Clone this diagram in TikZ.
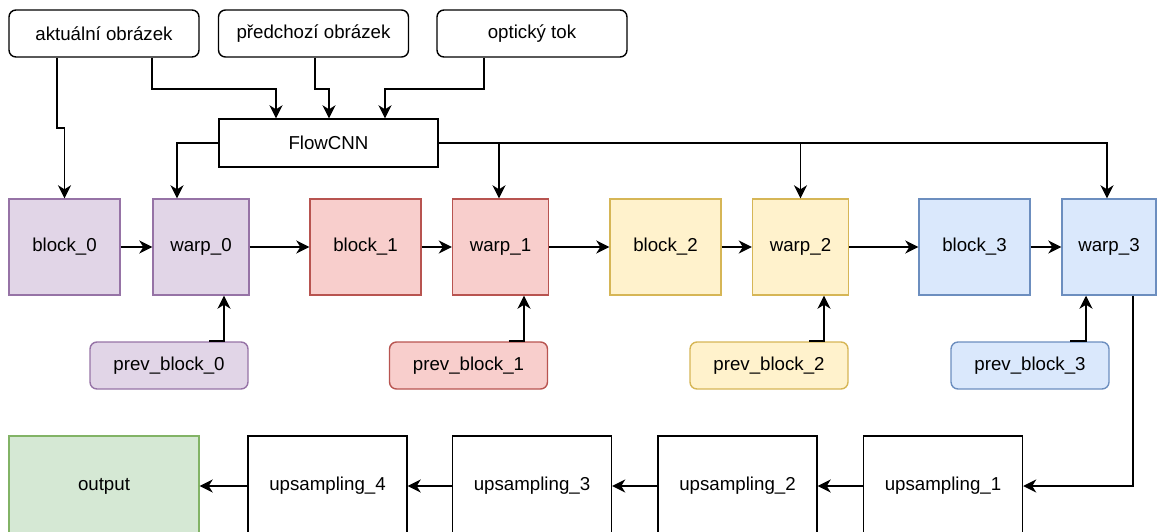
\documentclass[tikz,border=0pt]{standalone}
\usepackage{fontspec}
\setmainfont{Liberation Sans}
\usetikzlibrary{arrows.meta}

\definecolor{purpleF}{HTML}{E1D5E7}\definecolor{purpleD}{HTML}{9673A6}
\definecolor{redF}{HTML}{F8CECC}\definecolor{redD}{HTML}{B85450}
\definecolor{yellowF}{HTML}{FFF2CC}\definecolor{yellowD}{HTML}{D6B656}
\definecolor{blueF}{HTML}{DAE8FC}\definecolor{blueD}{HTML}{6C8EBF}
\definecolor{greenF}{HTML}{D5E8D4}\definecolor{greenD}{HTML}{82B366}

\begin{document}
\begin{tikzpicture}[x=1pt,y=-1pt,
  every node/.style={font=\fontsize{18.7}{22}\selectfont, inner sep=0pt, anchor=center},
  plain/.style={draw=black, line width=1.4pt, fill=white},
  inbox/.style={plain, rounded corners=7pt, minimum width=190pt, minimum height=47pt},
  flowbox/.style={plain, minimum width=219pt, minimum height=48pt},
  blockbox/.style={line width=1.4pt, minimum width=111pt, minimum height=96pt},
  warpbox/.style={line width=1.4pt, minimum width=96pt, minimum height=96pt},
  prevbox/.style={line width=1.4pt, rounded corners=7pt, minimum width=158pt, minimum height=47pt},
  upbox/.style={plain, minimum width=159pt, minimum height=100pt},
  cpurple/.style={draw=purpleD, fill=purpleF},
  cred/.style={draw=redD, fill=redF},
  cyellow/.style={draw=yellowD, fill=yellowF},
  cblue/.style={draw=blueD, fill=blueF},
  link/.style={draw=black, line width=1.9pt, -{Stealth[length=13pt, width=13pt, inset=4pt]}},
]
\useasboundingbox (0,0) rectangle (1158,531);

% inputs
\node[inbox] (akt) at (104,33.5) {aktuální obrázek};
\node[inbox] (pred) at (313.5,33.5) {předchozí obrázek};
\node[inbox] (opt) at (532,33.5) {optický tok};
\node[flowbox] (flow) at (328.5,143) {FlowCNN};

% encoder row
\node[blockbox, cpurple] (b0) at (64.5,247) {block\_0};
\node[warpbox, cpurple] (w0) at (201,247) {warp\_0};
\node[blockbox, cred] (b1) at (365.5,247) {block\_1};
\node[warpbox, cred] (w1) at (500.5,247) {warp\_1};
\node[blockbox, cyellow] (b2) at (665.5,247) {block\_2};
\node[warpbox, cyellow] (w2) at (800.5,247) {warp\_2};
\node[blockbox, cblue] (b3) at (974.5,247) {block\_3};
\node[warpbox, cblue, minimum width=94pt] (w3) at (1109,247) {warp\_3};

% previous blocks
\node[prevbox, cpurple] (p0) at (169,365.5) {prev\_block\_0};
\node[prevbox, cred] (p1) at (468.5,365.5) {prev\_block\_1};
\node[prevbox, cyellow] (p2) at (769,365.5) {prev\_block\_2};
\node[prevbox, cblue] (p3) at (1030,365.5) {prev\_block\_3};

% decoder row
\node[draw=greenD, fill=greenF, line width=1.4pt, minimum width=190pt, minimum height=100pt] (out) at (104,486) {output};
\node[upbox] (u4) at (327.5,486) {upsampling\_4};
\node[upbox] (u3) at (532,486) {upsampling\_3};
\node[upbox] (u2) at (737.5,486) {upsampling\_2};
\node[upbox] (u1) at (943,486) {upsampling\_1};

% inputs to FlowCNN and block_0
\draw[link] ([xshift=-47pt]akt.south) -- ++(0,70) -| (b0.north);
\draw[link] ([xshift=48pt]akt.south) -- ++(0,31) -| ([xshift=-52.5pt]flow.north);
\draw[link] ([xshift=1.5pt]pred.south) -- ++(0,31) -| ([xshift=0.5pt]flow.north);
\draw[link] ([xshift=-48pt]opt.south) -- ++(0,31) -| ([xshift=56.5pt]flow.north);

% FlowCNN to the warps
\draw[link] (flow.west) -| ([xshift=-24pt]w0.north);
\draw[link] (flow.east) -| ([xshift=-1.5pt]w1.north);
\draw[link] (flow.east) -| (w2.north);
\draw[link] (flow.east) -| ([xshift=-2pt]w3.north);

% encoder chain
\draw[link] (b0) -- (w0);
\draw[link] (w0) -- (b1);
\draw[link] (b1) -- (w1);
\draw[link] (w1) -- (b2);
\draw[link] (b2) -- (w2);
\draw[link] (w2) -- (b3);
\draw[link] (b3) -- (w3);

% previous blocks into warps
\draw[link] ([xshift=40pt]p0.north) -| ([xshift=23pt]w0.south);
\draw[link] ([xshift=40pt]p1.north) -| ([xshift=23.5pt]w1.south);
\draw[link] ([xshift=40pt]p2.north) -| ([xshift=23.5pt]w2.south);
\draw[link] ([xshift=40pt]p3.north) -| ([xshift=-23pt]w3.south);

% decoder chain
\draw[link] ([xshift=24pt]w3.south) |- (u1.east);
\draw[link] (u1) -- (u2);
\draw[link] (u2) -- (u3);
\draw[link] (u3) -- (u4);
\draw[link] (u4) -- (out);
\end{tikzpicture}
\end{document}
